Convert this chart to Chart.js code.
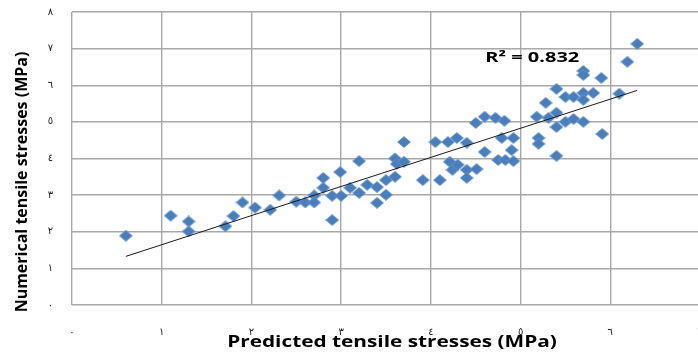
<!DOCTYPE html>
<html>
<head>
<meta charset="utf-8">
<script src="https://cdn.jsdelivr.net/npm/chart.js@4/dist/chart.umd.min.js"></script>
<style>
  html, body { margin: 0; padding: 0; background: #fff; overflow: hidden; }
  #wrap { width: 698px; height: 358px; overflow: hidden; }
  canvas { display: block; }
</style>
</head>
<body>
<div id="wrap"><canvas id="chart" width="700" height="358"></canvas></div>
<script>
// Predicted vs numerical tensile stresses (MPa)
const predicted = [
  0.60, 1.10, 1.30, 1.30, 1.71, 1.80, 1.90, 2.04, 2.21, 2.31,
  2.50, 2.60, 2.70, 2.70, 2.80, 2.80, 2.90, 2.90, 2.99, 3.00,
  3.10, 3.20, 3.20, 3.29, 3.40, 3.40, 3.50, 3.50, 3.60, 3.60,
  3.62, 3.70, 3.70, 3.91, 4.05, 4.10, 4.19, 4.29, 4.21, 4.24,
  4.30, 4.40, 4.40, 4.40, 4.51, 4.50, 4.60, 4.72, 4.82, 4.79,
  4.92, 4.60, 4.90, 4.75, 4.83, 4.92, 5.18, 5.20, 5.20, 5.28,
  5.40, 5.40, 5.40, 5.40, 5.31, 5.50, 5.50, 5.59, 5.59, 5.70,
  5.70, 5.70, 5.70, 5.70, 5.81, 5.90, 5.91, 6.10, 6.19, 6.30
];
const numerical = [
  1.89, 2.44, 2.28, 2.01, 2.15, 2.43, 2.80, 2.66, 2.60, 2.99,
  2.82, 2.80, 2.99, 2.80, 3.47, 3.20, 2.32, 2.98, 3.63, 2.98,
  3.20, 3.93, 3.06, 3.28, 2.79, 3.22, 3.01, 3.41, 4.00, 3.50,
  3.85, 3.91, 4.45, 3.41, 4.45, 3.41, 4.45, 4.56, 3.91, 3.69,
  3.83, 4.43, 3.69, 3.47, 3.71, 4.97, 5.14, 5.11, 5.03, 4.56,
  4.56, 4.18, 4.23, 3.96, 3.96, 3.93, 5.14, 4.56, 4.40, 5.52,
  5.90, 5.25, 4.86, 4.07, 5.11, 5.68, 5.00, 5.68, 5.08, 5.79,
  5.60, 5.00, 6.39, 6.28, 5.79, 6.20, 4.67, 5.77, 6.64, 7.13
];
const xTickLabels = ['٠', '١', '٢', '٣', '٤', '٥', '٦', '٧'];
const yTickLabels = ['٠', '١', '٢', '٣', '٤', '٥', '٦', '٧', '٨'];
const rSquaredText = 'R² = 0.832';
const xTitle = 'Predicted tensile stresses (MPa)';
const yTitle = 'Numerical tensile stresses (MPa)';

const points = predicted.map((x, i) => ({ x, y: numerical[i] }));

// least-squares linear trend over the data range
function linearTrend(xs, ys) {
  const n = xs.length;
  const mx = xs.reduce((a, b) => a + b, 0) / n;
  const my = ys.reduce((a, b) => a + b, 0) / n;
  let sxy = 0, sxx = 0;
  for (let i = 0; i < n; i++) {
    sxy += (xs[i] - mx) * (ys[i] - my);
    sxx += (xs[i] - mx) * (xs[i] - mx);
  }
  const slope = sxy / sxx;
  const intercept = my - slope * mx;
  const x0 = Math.min(...xs), x1 = Math.max(...xs);
  return [{ x: x0, y: intercept + slope * x0 }, { x: x1, y: intercept + slope * x1 }];
}
const trend = linearTrend(predicted, numerical);

// diamond marker, a little wider than tall
function diamond(w, h, fill, stroke) {
  const c = document.createElement('canvas');
  c.width = w; c.height = h;
  const g = c.getContext('2d');
  g.beginPath();
  g.moveTo(w / 2, 0.5);
  g.lineTo(w - 0.5, h / 2);
  g.lineTo(w / 2, h - 0.5);
  g.lineTo(0.5, h / 2);
  g.closePath();
  g.fillStyle = fill;
  g.fill();
  g.lineWidth = 0.8;
  g.strokeStyle = stroke;
  g.stroke();
  return c;
}
const marker = diamond(14, 12, '#4a7ebb', '#6a96cc');

const boldFace = '"Open Sans", "Liberation Sans", sans-serif';

// draws text centred at (x, y), widened by sx
function wideText(ctx, text, x, y, sx) {
  ctx.save();
  ctx.translate(x, y);
  ctx.scale(sx, 1);
  ctx.fillText(text, 0, 0);
  ctx.restore();
}

const annotations = {
  id: 'annotations',
  afterDraw(chart) {
    const { ctx, scales } = chart;
    ctx.save();
    ctx.fillStyle = '#000';
    ctx.textAlign = 'center';
    ctx.textBaseline = 'middle';
    // R² label near the upper end of the trend
    ctx.font = 'bold 14.5px ' + boldFace;
    wideText(ctx, rSquaredText, scales.x.getPixelForValue(5.13), scales.y.getPixelForValue(6.75), 1.38);
    // axis titles
    ctx.font = 'bold 16px ' + boldFace;
    wideText(ctx, xTitle, 392, 342, 1.3);
    ctx.translate(22, 182);
    ctx.rotate(-Math.PI / 2);
    ctx.fillText(yTitle, 0, 0);
    ctx.restore();
  }
};

new Chart(document.getElementById('chart'), {
  type: 'scatter',
  data: {
    datasets: [
      {
        label: 'Numerical',
        data: points,
        pointStyle: marker,
        pointRadius: 7,
        pointHoverRadius: 7,
        order: 1
      },
      {
        type: 'line',
        label: 'Trend',
        data: trend,
        borderColor: '#1a1a1a',
        borderWidth: 1,
        pointRadius: 0,
        fill: false,
        order: 0
      }
    ]
  },
  options: {
    responsive: false,
    animation: false,
    devicePixelRatio: 1,
    layout: { autoPadding: false, padding: { top: 12, left: 0, right: 0, bottom: 0 } },
    plugins: {
      legend: { display: false },
      tooltip: { enabled: false }
    },
    scales: {
      x: {
        type: 'linear',
        min: 0, max: 7,
        afterFit(s) { s.height = 53; s.paddingLeft = 0; s.paddingRight = 0; },
        grid: { color: '#a8a8a8', lineWidth: 1.4, drawTicks: false },
        border: { display: false },
        ticks: {
          stepSize: 1,
          padding: 21,
          color: '#222',
          font: { family: '"DejaVu Sans", sans-serif', size: 10 },
          callback: v => xTickLabels[v]
        }
      },
      y: {
        type: 'linear',
        min: 0, max: 8,
        afterFit(s) { s.width = 72; s.paddingTop = 0; s.paddingBottom = 0; },
        grid: { color: '#a8a8a8', lineWidth: 1.4, drawTicks: false },
        border: { display: false },
        ticks: {
          stepSize: 1,
          padding: 19,
          color: '#222',
          font: { family: '"DejaVu Sans", sans-serif', size: 10 },
          callback: v => yTickLabels[v]
        }
      }
    }
  },
  plugins: [annotations]
});
</script>
</body>
</html>
